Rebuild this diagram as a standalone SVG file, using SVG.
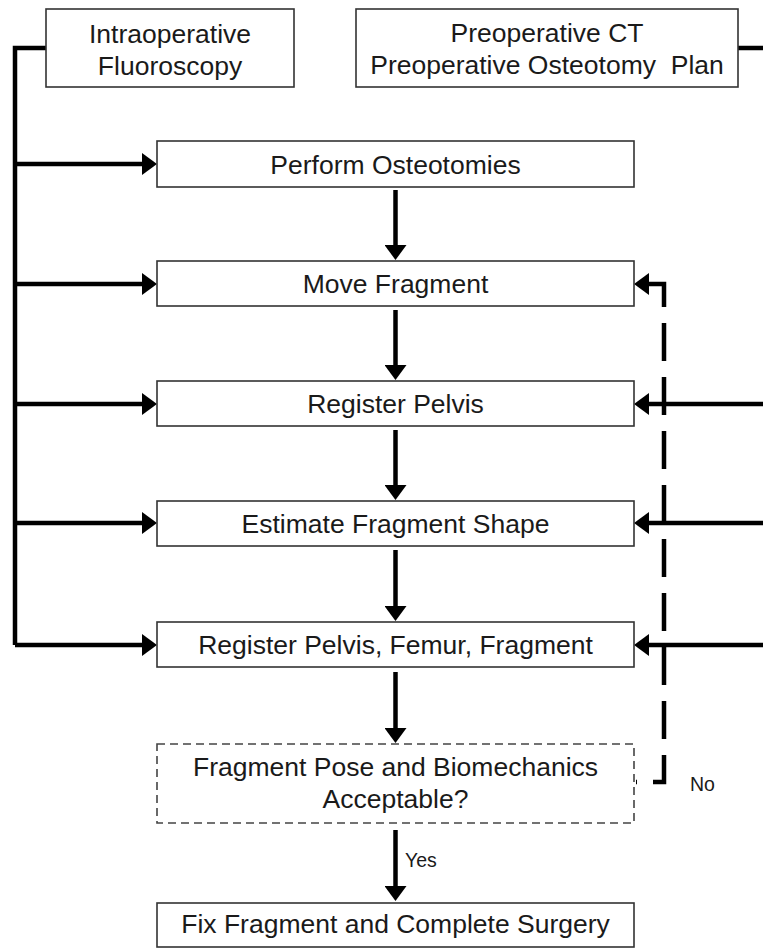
<svg xmlns="http://www.w3.org/2000/svg" width="763" height="948" viewBox="0 0 763 948">
<defs>
<marker id="ah" viewBox="0 0 15 22" refX="0" refY="11" markerWidth="15" markerHeight="22" markerUnits="userSpaceOnUse" orient="auto">
<path d="M0,0 L15,11 L0,22 z" fill="#000"/>
</marker>
<style>
.box{fill:#fff;stroke:#333;stroke-width:1.6}
.dbox{fill:#fff;stroke:#444;stroke-width:1.6;stroke-dasharray:8 5}
.t{font-family:"Liberation Sans",Arial,sans-serif;font-size:26.5px;fill:#1a1a1a;text-anchor:middle}
.s{font-family:"Liberation Sans",Arial,sans-serif;font-size:19.5px;fill:#1a1a1a}
.c{fill:none;stroke:#000;stroke-width:4.5}
.ca{fill:none;stroke:#000;stroke-width:4.5;marker-end:url(#ah)}
</style>
</defs>
<rect width="763" height="948" fill="#fff"/>
<g id="connectors">
<path class="c" d="M46 48 H15 V645"/>
<path class="ca" d="M15 164 H142"/>
<path class="ca" d="M15 284 H142"/>
<path class="ca" d="M15 404 H142"/>
<path class="ca" d="M15 523 H142"/>
<path class="ca" d="M15 645 H142"/>
<path class="c" d="M738 48 H763"/>
<path class="ca" d="M763 404 H649"/>
<path class="ca" d="M763 523 H649"/>
<path class="ca" d="M763 645 H649"/>
<path class="ca" d="M395.5 190 V245"/>
<path class="ca" d="M395.5 310 V365"/>
<path class="ca" d="M395.5 430 V485"/>
<path class="ca" d="M395.5 550 V606"/>
<path class="ca" d="M395.5 672 V728"/>
<path class="ca" d="M395.5 830 V886"/>
<path d="M649 284 H664 V782 H636" fill="none" stroke="#000" stroke-width="4.5" stroke-dasharray="38 16"/>
<path d="M649 273 L634 284 L649 295 z" fill="#000"/>
<text class="s" x="405" y="867">Yes</text>
<text class="s" x="690" y="791">No</text>
</g>
<g id="intraop">
<rect class="box" x="46" y="9" width="248" height="78"/>
<text class="t" x="170" y="43">Intraoperative</text>
<text class="t" x="170" y="75">Fluoroscopy</text>
</g>
<g id="preop">
<rect class="box" x="356" y="9" width="382" height="78"/>
<text class="t" x="547" y="42">Preoperative CT</text>
<text class="t" x="547" y="74" xml:space="preserve">Preoperative Osteotomy  Plan</text>
</g>
<g id="osteotomies">
<rect class="box" x="157" y="141" width="477" height="46"/>
<text class="t" x="395.5" y="174">Perform Osteotomies</text>
</g>
<g id="move">
<rect class="box" x="157" y="261" width="477" height="45"/>
<text class="t" x="395.5" y="293">Move Fragment</text>
</g>
<g id="regpelvis">
<rect class="box" x="157" y="381" width="477" height="45"/>
<text class="t" x="395.5" y="413">Register Pelvis</text>
</g>
<g id="estimate">
<rect class="box" x="157" y="501" width="477" height="45"/>
<text class="t" x="395.5" y="533">Estimate Fragment Shape</text>
</g>
<g id="regall">
<rect class="box" x="157" y="622" width="477" height="45"/>
<text class="t" x="395.5" y="654">Register Pelvis, Femur, Fragment</text>
</g>
<g id="decision">
<rect class="dbox" x="157" y="744" width="477" height="79"/>
<text class="t" x="395.5" y="776">Fragment Pose and Biomechanics</text>
<text class="t" x="395.5" y="808">Acceptable?</text>
</g>
<g id="fix">
<rect class="box" x="157" y="903" width="477" height="44"/>
<text class="t" x="395.5" y="933">Fix Fragment and Complete Surgery</text>
</g>
</svg>
